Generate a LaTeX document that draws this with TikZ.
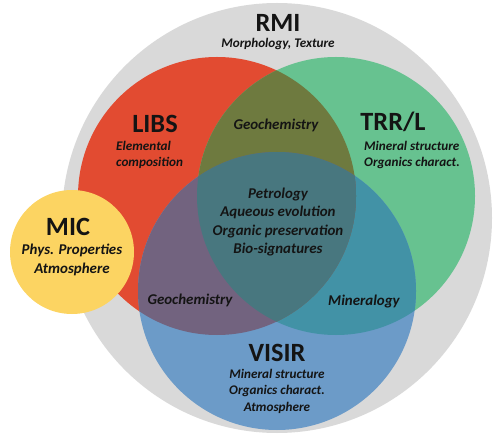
\documentclass[tikz,border=0pt]{standalone}
\usepackage{fontspec}
\setmainfont{Carlito}
\definecolor{rmigrey}{HTML}{D9D9D9}
\definecolor{libsred}{HTML}{E24B31}
\definecolor{trrgreen}{HTML}{67C290}
\definecolor{visirblue}{HTML}{6C9BC8}
\definecolor{micyellow}{HTML}{FCD462}
\definecolor{redgreen}{HTML}{6E7A3F}
\definecolor{redblue}{HTML}{72637F}
\definecolor{greenblue}{HTML}{4292A6}
\definecolor{allthree}{HTML}{48777F}
\definecolor{ink}{HTML}{141414}

\begin{document}
\begin{tikzpicture}[x=0.02cm,y=-0.02cm,text=ink,
  title/.style={font=\bfseries\fontsize{15}{18}\selectfont},
  sub/.style={font=\bfseries\itshape\fontsize{7.5}{9.4}\selectfont,align=center},
  mid/.style={font=\bfseries\itshape\fontsize{8.5}{10.4}\selectfont,align=center}]
\useasboundingbox (0,0) rectangle (493,435);

\coordinate (g) at (277,218);
\coordinate (r) at (217,196);
\coordinate (t) at (336,196);
\coordinate (v) at (277,291);
\coordinate (m) at (72,252);

\fill[rmigrey] (g) circle (215);
\fill[libsred] (r) circle (139);
\fill[trrgreen] (t) circle (139);
\fill[visirblue] (v) circle (139);

% overlaps
\begin{scope}
\clip (t) circle (139);
\fill[greenblue] (v) circle (139);
\end{scope}
\begin{scope}
\clip (r) circle (139);
\fill[redgreen] (t) circle (139);
\fill[redblue] (v) circle (139);
\clip (t) circle (139);
\fill[allthree] (v) circle (139);
\end{scope}

\fill[micyellow] (m) circle (62);

\node[title] (rmi) at (278,23) {RMI};
\node[sub] (rmitxt) at (278,44) {Morphology, Texture};

\node[title] (libs) at (155,124) {LIBS};
\node[sub,align=left,anchor=west] (libstxt) at (110,155) {Elemental\\composition};

\node[title] (trr) at (393,122) {TRR/L};
\node[sub,align=left,anchor=west] (trrtxt) at (358,155) {Mineral structure\\Organics charact.};

\node[mid] (geotop) at (276,125) {Geochemistry};
\node[mid] (core) at (278,222) {Petrology\\Aqueous evolution\\Organic preservation\\Bio-signatures};

\node[title] (mic) at (68,227) {MIC};
\node[mid] (mictxt) at (72,260) {Phys. Properties\\Atmosphere};

\node[mid] (geoleft) at (190,300) {Geochemistry};
\node[mid] (minl) at (364,302) {Mineralogy};

\node[title] (visir) at (277,353) {VISIR};
\node[sub] (visirtxt) at (277,391) {Mineral structure\\Organics charact.\\Atmosphere};

\end{tikzpicture}
\end{document}
